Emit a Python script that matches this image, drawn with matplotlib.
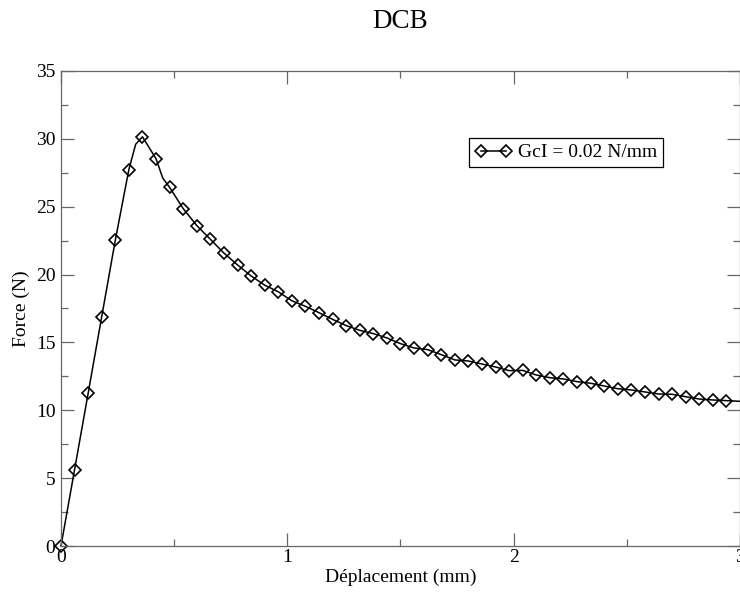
import matplotlib.pyplot as plt
from matplotlib.ticker import MultipleLocator

plt.rcParams['font.family'] = ['Liberation Serif', 'DejaVu Serif']

# displacement (mm) at each stored point, force (N) at each point
displacement = [0.00, 0.06, 0.12, 0.18, 0.24, 0.30, 0.36, 0.42, 0.48, 0.54,
                0.60, 0.66, 0.72, 0.78, 0.84, 0.90, 0.96, 1.02, 1.08, 1.14,
                1.20, 1.26, 1.32, 1.38, 1.44, 1.50, 1.56, 1.62, 1.68, 1.74,
                1.80, 1.86, 1.92, 1.98, 2.04, 2.10, 2.16, 2.22, 2.28, 2.34,
                2.40, 2.46, 2.52, 2.58, 2.64, 2.70, 2.76, 2.82, 2.88, 2.94]
force = [0.00, 5.62, 11.25, 16.90, 22.53, 27.74, 30.15, 28.53, 26.42, 24.86,
         23.61, 22.60, 21.58, 20.71, 19.90, 19.22, 18.73, 18.07, 17.66, 17.19,
         16.70, 16.24, 15.89, 15.65, 15.33, 14.91, 14.59, 14.47, 14.10, 13.71,
         13.63, 13.41, 13.19, 12.92, 12.94, 12.60, 12.40, 12.31, 12.11, 11.99,
         11.79, 11.59, 11.50, 11.35, 11.20, 11.18, 11.00, 10.83, 10.76, 10.71]

# intermediate solver steps that carry no symbol
extra_disp = [0.33, 0.45, 3.00]
extra_force = [29.60, 27.10, 10.66]

pts = sorted(zip(displacement + extra_disp, force + extra_force))
line_x = [p[0] for p in pts]
line_y = [p[1] for p in pts]
marked = [i for i, p in enumerate(pts) if p[0] in displacement]

fig = plt.figure(figsize=(7.4, 5.92), dpi=100)
ax = fig.add_axes([0.0824, 0.0777, 0.9176, 0.8024])

ax.plot(line_x, line_y, color='black', lw=1.1, marker='D', markevery=marked,
        ms=6, mfc='none', mec='black', mew=1.2, clip_on=False,
        label='GcI = 0.02 N/mm')

ax.set_xlim(0, 3)
ax.set_ylim(0, 35)
ax.xaxis.set_major_locator(MultipleLocator(1))
ax.xaxis.set_minor_locator(MultipleLocator(0.5))
ax.yaxis.set_major_locator(MultipleLocator(5))
ax.yaxis.set_minor_locator(MultipleLocator(2.5))
ax.tick_params(which='both', direction='in', top=True, right=True,
               color='#666666', width=0.9, labelsize=14)
ax.tick_params(which='major', length=9.5)
ax.tick_params(which='minor', length=5)
ax.tick_params(axis='x', pad=2)
ax.tick_params(axis='y', pad=4)
for s in ax.spines.values():
    s.set_color('#666666')
    s.set_linewidth(0.9)

ax.set_xlabel('Déplacement (mm)', fontsize=14, labelpad=2)
ax.set_ylabel('Force (N)', fontsize=14, labelpad=4)
fig.text(0.5412, 1 - 22 / 592, 'DCB', fontsize=19.5, ha='center', va='center')

leg = ax.legend(loc='upper left', bbox_to_anchor=(469 / 740, 1 - 138 / 592),
                bbox_transform=fig.transFigure, numpoints=2, fontsize=14,
                fancybox=False, framealpha=1, edgecolor='black',
                handlelength=1.9, handletextpad=0.3, borderpad=0.3,
                borderaxespad=0)
leg.get_frame().set_linewidth(0.9)

fig.savefig('out.png', dpi=100)
